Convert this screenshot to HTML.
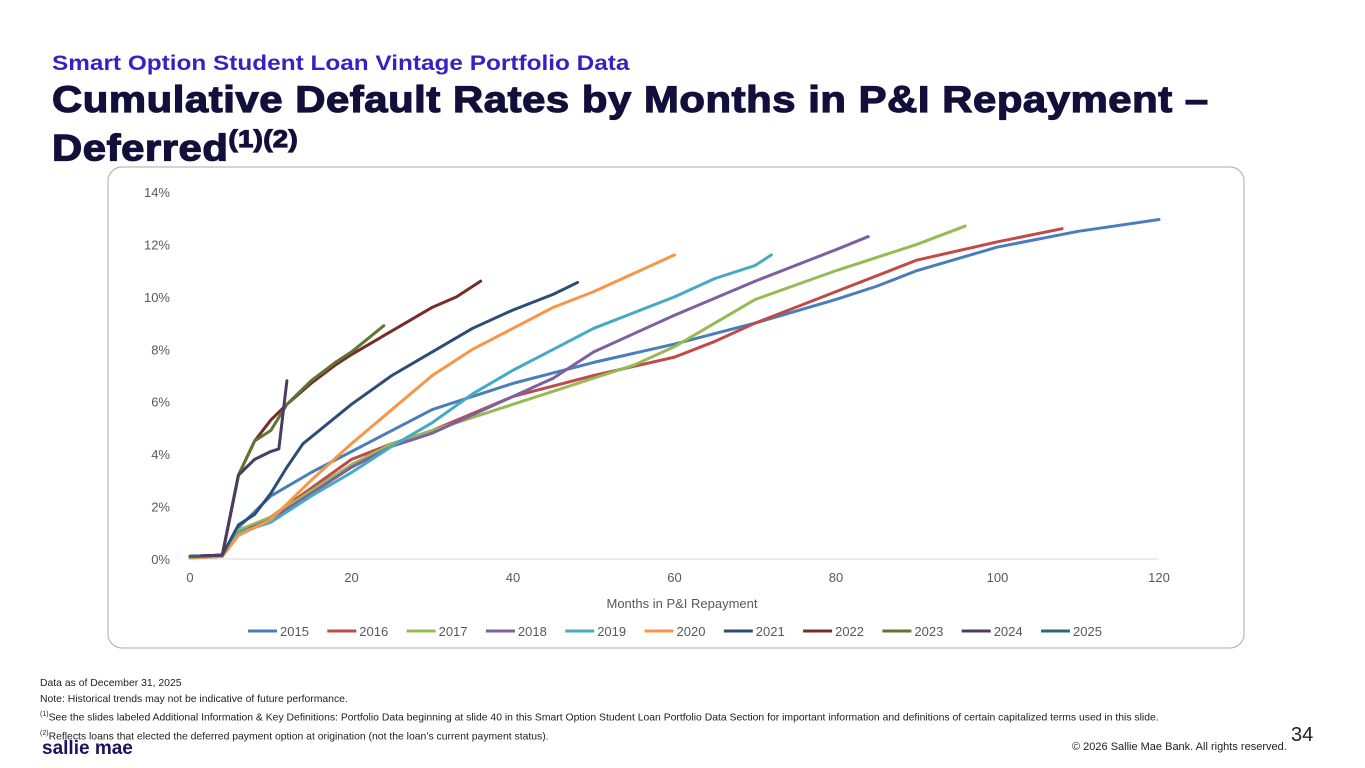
<!DOCTYPE html>
<html><head><meta charset="utf-8"><style>
body{margin:0;width:1365px;height:768px;background:#fff;font-family:"Liberation Sans",Arial,sans-serif;position:relative;overflow:hidden}
.abs{position:absolute;white-space:nowrap}
</style></head><body>
<div class="abs" style="left:52px;top:52px;font-size:21px;font-weight:bold;color:#3b1fc4;transform:scaleX(1.16);transform-origin:left">Smart Option Student Loan Vintage Portfolio Data</div>
<div class="abs" style="left:52px;top:80px;font-size:37px;font-weight:900;color:#12103a;line-height:40px;letter-spacing:0.5px;-webkit-text-stroke:1.2px #12103a;transform:scaleX(1.13);transform-origin:left">Cumulative Default Rates by Months in P&amp;I Repayment –<br>Deferred<sup style="font-size:24px">(1)(2)</sup></div>
<svg class="abs" style="left:0;top:0" width="1365" height="768" id="chart"></svg>
<div class="abs" style="left:40px;top:676px;font-size:10.4px;line-height:15.5px;color:#222">Data as of December 31, 2025<br>Note: Historical trends may not be indicative of future performance.<br><sup style="font-size:7px">(1)</sup>See the slides labeled Additional Information &amp; Key Definitions: Portfolio Data beginning at slide 40 in this Smart Option Student Loan Portfolio Data Section for important information and definitions of certain capitalized terms used in this slide.<br><sup style="font-size:7px">(2)</sup>Reflects loans that elected the deferred payment option at origination (not the loan’s current payment status).</div>
<div class="abs" style="left:42px;top:738px;font-family:'Liberation Sans',sans-serif;font-weight:bold;font-size:19px;color:#1a1460;line-height:22px">sallie mae</div>
<div class="abs" style="left:1291px;top:724px;font-size:20px;color:#222">34</div>
<div class="abs" style="left:1072px;top:741px;font-size:11px;color:#222">© 2026 Sallie Mae Bank. All rights reserved.</div>
<script>
const years=["2015","2016","2017","2018","2019","2020","2021","2022","2023","2024","2025"];
const colors=["#4a7ebb","#be4b48","#98b954","#7d60a0","#46aac5","#f79646","#2c4d75","#772c2a","#5f7530","#4d3b62","#276a7c"];
const m2015=[0,4,6,10,15,20,25,30,35,40,50,60,70,80,85,90,100,110,120];
const v2015=[0.1,0.15,1.2,2.4,3.3,4.1,4.9,5.7,6.2,6.7,7.5,8.2,9.0,9.9,10.4,11.0,11.9,12.5,12.95];
const m2016=[0,4,6,10,15,20,25,30,40,50,60,65,70,80,90,100,108];
const v2016=[0.05,0.1,1.0,1.6,2.7,3.8,4.4,4.9,6.2,7.0,7.7,8.3,9.0,10.2,11.4,12.1,12.6];
const m2017=[0,4,6,10,15,20,25,30,40,50,55,60,65,70,80,90,96];
const v2017=[0.05,0.1,1.1,1.6,2.6,3.6,4.4,4.9,5.9,6.9,7.4,8.1,9.0,9.9,11.0,12.0,12.7];
const m2018=[0,4,6,10,15,20,25,30,35,40,45,50,55,60,70,80,84];
const v2018=[0.05,0.1,1.0,1.5,2.5,3.5,4.3,4.8,5.5,6.2,6.9,7.9,8.6,9.3,10.6,11.8,12.3];
const m2019=[0,4,6,10,15,20,25,30,35,40,45,50,55,60,65,70,72];
const v2019=[0.05,0.1,1.0,1.4,2.4,3.3,4.3,5.2,6.3,7.2,8.0,8.8,9.4,10.0,10.7,11.2,11.6];
const m2020=[0,4,6,10,15,20,25,30,35,40,45,50,55,60];
const v2020=[0.05,0.1,0.9,1.5,3.0,4.4,5.7,7.0,8.0,8.8,9.6,10.2,10.9,11.6];
const m2021=[0,4,6,8,10,12,14,16,20,25,30,35,40,45,48];
const v2021=[0.1,0.15,1.3,1.7,2.5,3.5,4.4,4.9,5.9,7.0,7.9,8.8,9.5,10.1,10.55];
const m2022=[0,4,6,8,10,12,15,18,20,25,30,33,36];
const v2022=[0.1,0.15,3.2,4.5,5.3,5.9,6.7,7.4,7.8,8.7,9.6,10.0,10.6];
const m2023=[0,4,6,8,10,12,15,18,20,24];
const v2023=[0.1,0.15,3.2,4.5,4.9,5.9,6.8,7.5,7.9,8.9];
const m2024=[0,4,6,8,10,11,12];
const v2024=[0.1,0.15,3.2,3.8,4.1,4.2,6.8];
const m2025=[0,1];
const v2025=[0.1,0.1];
const months=[m2015,m2016,m2017,m2018,m2019,m2020,m2021,m2022,m2023,m2024,m2025];
const vals=[v2015,v2016,v2017,v2018,v2019,v2020,v2021,v2022,v2023,v2024,v2025];
const yTicks=[0,2,4,6,8,10,12,14];
const xTicks=[0,20,40,60,80,100,120];
const NS="http://www.w3.org/2000/svg";
const svg=document.getElementById('chart');
const X=m=>190+m*(1159-190)/120;
const Y=v=>559-v*(559-192)/14;
function el(t,a,p){const e=document.createElementNS(NS,t);for(const k in a)e.setAttribute(k,a[k]);(p||svg).appendChild(e);return e;}
const frame=el('rect',{x:108,y:167,width:1136,height:481,rx:14,fill:'none',stroke:'#aaa','stroke-width':1});


const axis=el('line',{x1:X(0),x2:X(120),y1:Y(0),y2:Y(0),stroke:'#d9d9d9','stroke-width':1});


yTicks.forEach(t=>{const e=el('text',{x:170,y:Y(t)+5,'text-anchor':'end','font-size':13,fill:'#595959'});e.textContent=t+'%';

});
xTicks.forEach(t=>{const e=el('text',{x:X(t),y:582,'text-anchor':'middle','font-size':13,fill:'#595959'});e.textContent=t;

});
const xt=el('text',{x:682,y:608,'text-anchor':'middle','font-size':13,fill:'#595959'});xt.textContent='Months in P&I Repayment';


years.forEach((y,i)=>{const pts=months[i].map((m,j)=>X(m)+','+Y(vals[i][j])).join(' ');
const p=el('polyline',{points:pts,fill:'none',stroke:colors[i],'stroke-width':3,'stroke-linejoin':'round','stroke-linecap':'round'});

});
years.forEach((y,i)=>{const x0=248+i*79.3;const g=el('g',{});


el('line',{x1:x0,x2:x0+29,y1:631,y2:631,stroke:colors[i],'stroke-width':3},g);
const t=el('text',{x:x0+32,y:636,'font-size':13,fill:'#595959'},g);t.textContent=y;});
</script>
</body></html>
